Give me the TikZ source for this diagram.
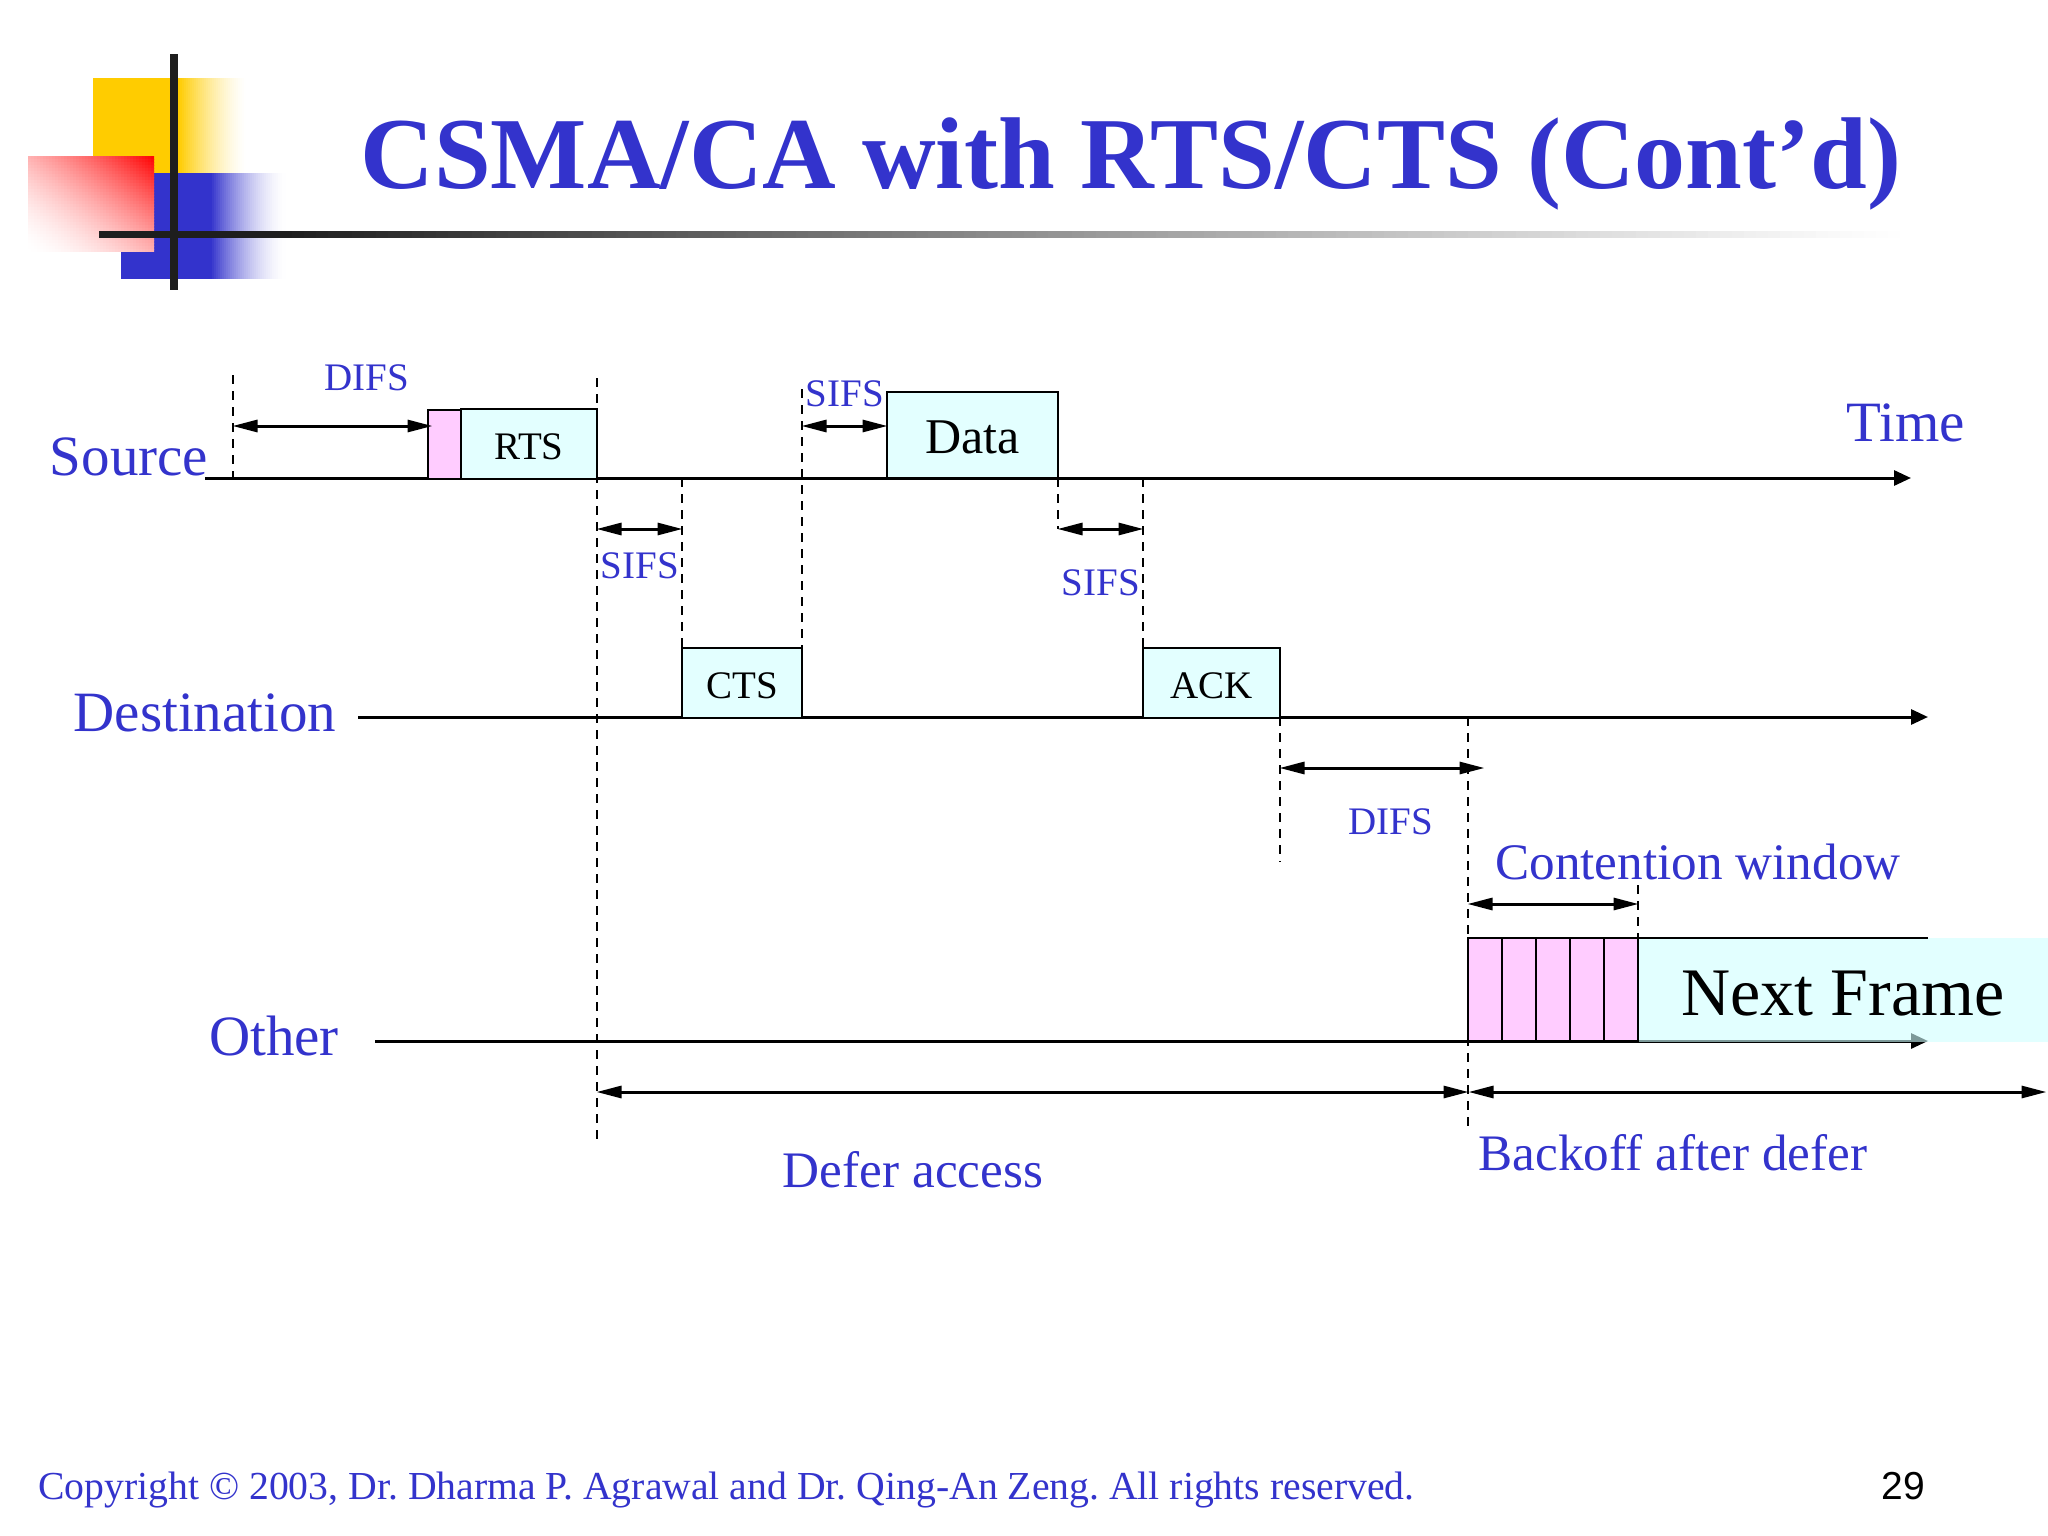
\documentclass[tikz,border=0pt]{standalone}
\usepackage{fontspec}
\setmainfont{Liberation Serif}
\newfontfamily\numfont{Liberation Sans}
\usetikzlibrary{arrows.meta}
\definecolor{slideblue}{HTML}{3333CC}
\definecolor{pinkfill}{HTML}{FFCCFF}
\definecolor{cyanfill}{HTML}{E3FFFF}
\definecolor{cyanglass}{HTML}{D0FFFF}
\definecolor{logoyellow}{HTML}{FFCC00}
\definecolor{logobar}{HTML}{1E1E1E}
\newcommand{\fs}[1]{\fontsize{#1}{#1}\selectfont}
\newcommand{\dn}[1]{\raisebox{-2.5pt}[\height][0pt]{#1}}
% horizontal fade to white drawn as strips: colour, x0, x1, y0, y1, strip width, exponent
\newcommand{\fadestrips}[7]{%
  \pgfmathsetmacro{\nstrips}{int((#3-#2)/#6)}%
  \foreach \k in {0,...,\nstrips}{%
    \pgfmathsetmacro{\tt}{\k/\nstrips}%
    \pgfmathsetmacro{\pp}{100*(1-\tt)^#7}%
    \pgfmathsetmacro{\xa}{#2+\k*#6}%
    \pgfmathsetmacro{\xb}{min(#3,\xa+#6+1)}%
    \fill[#1!\pp!white] (\xa,#4) rectangle (\xb,#5);
  }}
\tikzset{
  x=1pt,y=-1pt,
  tline/.style={line width=3pt,black},
  axisarrow/.style={tline,-{Stealth[length=17pt,width=15pt,inset=0pt]}},
  span/.style={line width=3pt,black,{Stealth[length=25pt,width=12pt,inset=0pt]}-{Stealth[length=25pt,width=12pt,inset=0pt]},shorten <=-0.5pt,shorten >=-0.5pt},
  guide/.style={line width=2pt,black,dash pattern=on 9pt off 7pt},
  frame/.style={draw=black,line width=2.4pt,inner sep=0pt,outer sep=0pt,anchor=north west,fill=cyanfill,text=black},
  pinkcell/.style={draw=black,line width=2.4pt,inner sep=0pt,outer sep=0pt,anchor=north west,fill=pinkfill},
  lab/.style={anchor=base,inner sep=0pt,text=slideblue,font=\fs{39}},
  biglab/.style={anchor=base,inner sep=0pt,text=slideblue,font=\fs{57}},
  midlab/.style={anchor=base,inner sep=0pt,text=slideblue,font=\fs{51.2}},
}
\begin{document}
\begin{tikzpicture}
\useasboundingbox (0,0) rectangle (2048,1536);
\fill[white] (0,0) rectangle (2048,1536);
% logo
\fill[logoyellow] (93,78) rectangle (179,173);
\fadestrips{logoyellow}{178}{246}{78}{173}{2}{1.5}
\fill[slideblue] (121,173) rectangle (211,279);
\fadestrips{slideblue}{210}{286}{173}{279}{2}{1.7}
\begin{scope}
\clip (28,156) rectangle (154,251);
\fill[white] (28,156) rectangle (154,251);
\foreach \i in {0,...,41}{
  \foreach \j in {0,...,31}{
    \pgfmathsetmacro{\tt}{0.5*(\i+.5)/42+0.5*(31.5-\j)/32}
    \pgfmathsetmacro{\pp}{100*\tt^1.7}
    \pgfmathsetmacro{\xa}{28+3*\i}
    \pgfmathsetmacro{\ya}{156+3*\j}
    \fill[red!\pp!white] (\xa,\ya) rectangle ++(4,4);
  }
}
\end{scope}
\fill[logobar] (170,54) rectangle (178,290);
\fill[logobar] (99,231) rectangle (281,238);
\fadestrips{logobar}{280}{1900}{231}{238}{12}{1.15}
% title
\node[anchor=base,inner sep=0pt,text=slideblue,font=\fs{102}\bfseries] (title) at (1131,189) {CSMA/CA with RTS/CTS (Cont’d)};
% coordinates
\coordinate (srcL) at (205,478); \coordinate (srcR) at (1911,478);
\coordinate (dstL) at (358,717); \coordinate (dstR) at (1928,717);
\coordinate (othL) at (375,1041); \coordinate (othR) at (1928,1041);
% axes
\draw[axisarrow] (srcL) -- (srcR);
\draw[axisarrow] (dstL) -- (dstR);
\draw[axisarrow] (othL) -- (othR);
% next frame
\node[inner sep=0pt,outer sep=0pt,anchor=north west,fill=cyanglass,fill opacity=.6,text opacity=1,minimum width=410pt,minimum height=104pt,text=black] (next) at (1638,938) {};
\node[anchor=base,inner sep=0pt,font=\fs{68},text=black] (nextlab) at (1843,1015) {Next Frame};
% frames
\node[pinkcell,minimum width=34pt,minimum height=69pt] (pk) at (428,410) {};
\node[frame,minimum width=136pt,minimum height=70pt,font=\fs{39}] (rts) at (461,409) {\dn{RTS}};
\node[frame,minimum width=171pt,minimum height=86pt,font=\fs{50}] (data) at (887,392) {\dn{Data}};
\node[frame,minimum width=120pt,minimum height=70pt,font=\fs{39}] (cts) at (682,648) {\dn{CTS}};
\node[frame,minimum width=137pt,minimum height=70pt,font=\fs{39}] (ack) at (1143,648) {\dn{ACK}};
\foreach \i/\x in {1/1468,2/1502,3/1536,4/1570,5/1604}
  \node[pinkcell,minimum width=34pt,minimum height=103pt] (c\i) at (\x,938) {};
\coordinate (nextTop) at (1928,938);
\draw[line width=2.4pt] (c5.north east) -- (nextTop);
% guide ends
\coordinate (g1a) at (233,375); \coordinate (g1b) at (233,478);
\coordinate (g2a) at (597,378); \coordinate (g2b) at (597,1139);
\coordinate (g3a) at (682,478); \coordinate (g4a) at (802,389);
\coordinate (g5a) at (1058,478); \coordinate (g5b) at (1058,529);
\coordinate (g6a) at (1143,478);
\coordinate (g7a) at (1280,717); \coordinate (g7b) at (1280,862);
\coordinate (g8a) at (1468,717); \coordinate (g8b) at (1468,1127);
\coordinate (g9a) at (1638,885);
\draw[guide] (g1a) -- (g1b);
\draw[guide] (g2a) -- (g2b);
\draw[guide] (g3a) -- (cts.north west);
\draw[guide] (g4a) -- (cts.north east);
\draw[guide] (g5a) -- (g5b);
\draw[guide] (g6a) -- (ack.north west);
\draw[guide] (g7a) -- (g7b);
\draw[guide] (g8a) -- (g8b);
\draw[guide] (g9a) -- (c5.north east);
% spans
\coordinate (s1a) at (233,426); \coordinate (s1b) at (432,426);
\coordinate (s2a) at (802,426); \coordinate (s2b) at (887,426);
\coordinate (s3a) at (597,529); \coordinate (s3b) at (682,529);
\coordinate (s4a) at (1058,529); \coordinate (s4b) at (1143,529);
\coordinate (s5a) at (1280,768); \coordinate (s5b) at (1484,768);
\coordinate (s6a) at (1468,904); \coordinate (s6b) at (1638,904);
\coordinate (s7a) at (597,1092); \coordinate (s7b) at (1468,1092);
\coordinate (s8a) at (1469,1092); \coordinate (s8b) at (2046,1092);
\draw[span] (s1a) -- (s1b);
\draw[span] (s2a) -- (s2b);
\draw[span] (s3a) -- (s3b);
\draw[span] (s4a) -- (s4b);
\draw[span] (s5a) -- (s5b);
\draw[span] (s6a) -- (s6b);
\draw[span] (s7a) -- (s7b);
\draw[span] (s8a) -- (s8b);
% labels
\node[biglab] (lsrc) at (129,475) {Source};
\node[biglab] (ldst) at (205,731) {Destination};
\node[biglab] (loth) at (274,1055) {Other};
\node[biglab] (ltime) at (1906,441) {Time};
\node[lab] (l1) at (367,390) {DIFS};
\node[lab] (l2) at (845,406) {SIFS};
\node[lab] (l3) at (640,578) {SIFS};
\node[lab] (l4) at (1101,595) {SIFS};
\node[lab] (l5) at (1391,834) {DIFS};
\node[midlab] (l6) at (1698,879) {Contention window};
\node[midlab] (l7) at (913,1187) {Defer access};
\node[midlab] (l8) at (1673,1170) {Backoff after defer};
\node[anchor=base west,inner sep=0pt,text=slideblue,font=\fs{39.7}\frenchspacing] (copy) at (38,1499) {Copyright © 2003, Dr. Dharma P. Agrawal and Dr. Qing-An Zeng. All rights reserved.};
\node[anchor=base,inner sep=0pt,font=\fs{39}\numfont,text=black] (num) at (1903,1499) {29};
\end{tikzpicture}
\end{document}
